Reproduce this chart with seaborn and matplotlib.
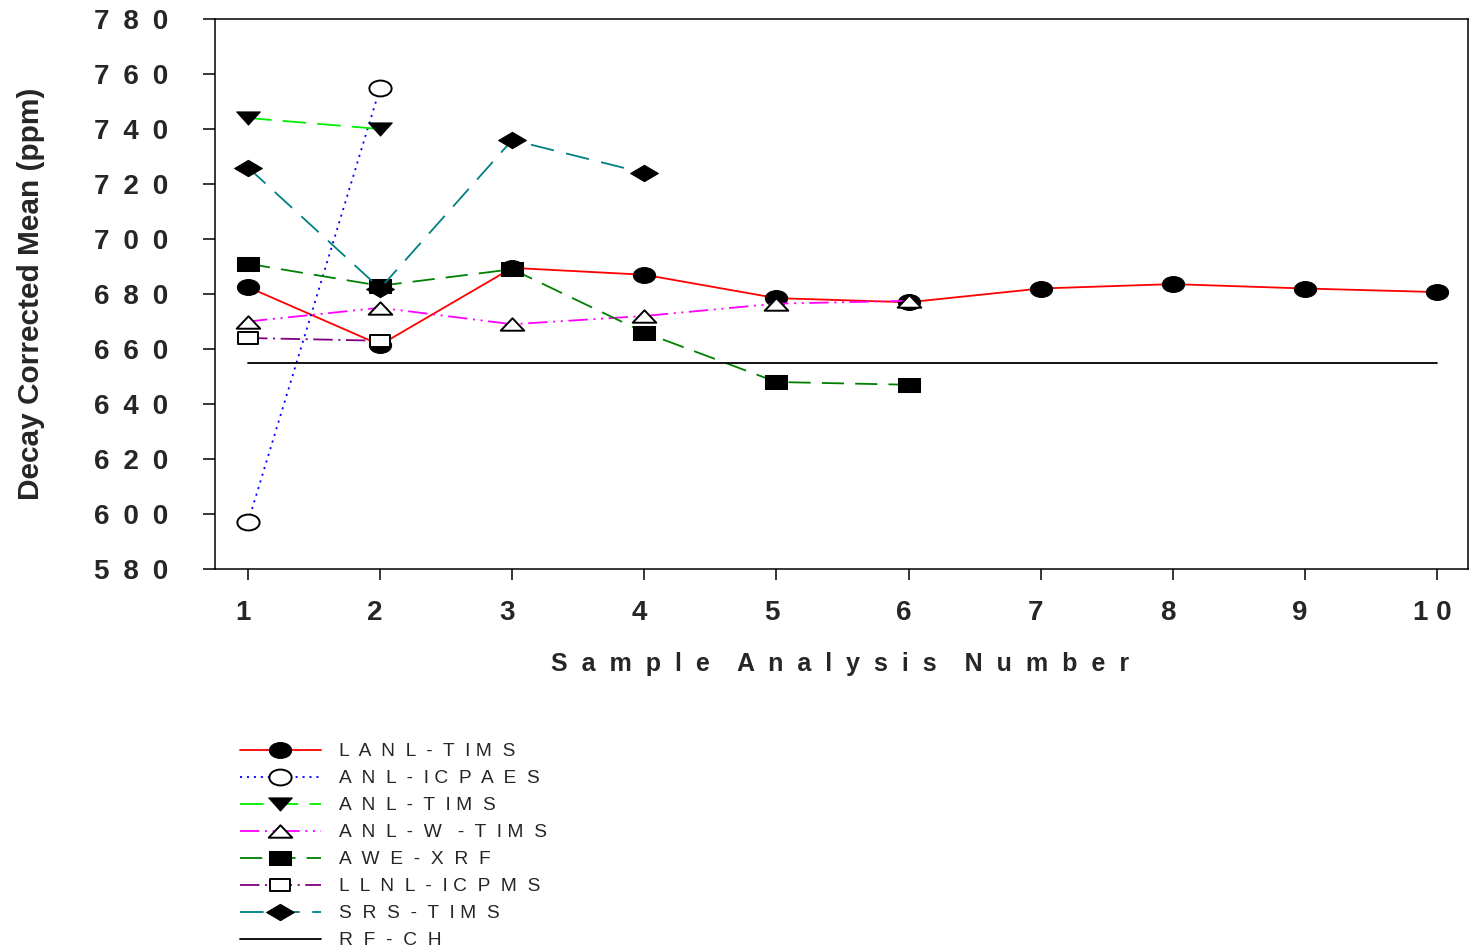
import matplotlib
matplotlib.use("Agg")
import matplotlib.pyplot as plt
from matplotlib.path import Path
from matplotlib.transforms import ScaledTranslation
import pandas as pd
import seaborn as sns

# ---- data -------------------------------------------------------------
lanl_tims_x = [1, 2, 3, 4, 5, 6, 7, 8, 9, 10]
lanl_tims_y = [682.5, 661.5, 689.5, 687, 678.5, 677, 682, 683.6, 682, 680.7]
anl_icpaes_x = [1, 2]
anl_icpaes_y = [597, 755]
anl_tims_x = [1, 2]
anl_tims_y = [744, 740]
anl_w_tims_x = [1, 2, 3, 4, 5, 6]
anl_w_tims_y = [670, 675, 669, 672, 676.5, 677.5]
awe_xrf_x = [1, 2, 3, 4, 5, 6]
awe_xrf_y = [691, 683, 689, 666, 648, 647]
llnl_icpms_x = [1, 2]
llnl_icpms_y = [664, 663]
srs_tims_x = [1, 2, 3, 4]
srs_tims_y = [726, 682, 736, 724]
rf_ch_x = [1, 10]
rf_ch_y = [655, 655]

series_names = ["LANL-TIMS", "ANL-ICPAES", "ANL-TIMS", "ANL-W-TIMS",
                "AWE-XRF", "LLNL-ICPMS", "SRS-TIMS", "RF-CH"]
legend_labels = ["L  A  N  L  -  T  I M  S",
                 "A  N  L  -  I C  P  A  E  S",
                 "A  N  L  -  T  I M  S",
                 "A  N  L  -  W   -  T  I M  S",
                 "A  W  E  -  X  R  F",
                 "L  L  N  L  -  I C  P  M  S",
                 "S  R  S  -  T  I M  S",
                 "R  F  -  C  H"]
y_ticks = [580, 600, 620, 640, 660, 680, 700, 720, 740, 760, 780]
x_ticks = [1, 2, 3, 4, 5, 6, 7, 8, 9, 10]

# ---- styling ----------------------------------------------------------
sns.set_theme(style="ticks")
plt.rcParams["font.family"] = ["Liberation Sans", "DejaVu Sans"]
plt.rcParams["lines.scale_dashes"] = False


def marker_path(verts, sx):
    pts = [(x * sx, y) for x, y in verts]
    return Path(pts + [pts[0]], closed=True)


circle = Path.unit_circle()
ellipse = Path(circle.vertices * [1.4, 1.0], circle.codes)
tri_down = marker_path([(-1, 1), (1, 1), (0, -1)], 1.8)
tri_up = marker_path([(-1, -1), (1, -1), (0, 1)], 1.9)
square = marker_path([(-1, -1), (1, -1), (1, 1), (-1, 1)], 1.6)
diamond = marker_path([(0, 1), (1, 0), (0, -1), (-1, 0)], 1.7)

styles = {
    "LANL-TIMS": dict(color="#ff0000", linestyle="-", marker=ellipse,
                      markersize=16, mfc="black", mec="black"),
    "ANL-ICPAES": dict(color="#0000ff", linestyle=(0, (1.5, 3.5)), marker=ellipse,
                       markersize=16, mfc="white", mec="black", mew=1.4),
    "ANL-TIMS": dict(color="#00ee00", linestyle=(0, (17, 8)), marker=tri_down,
                     markersize=17, mfc="black", mec="black"),
    "ANL-W-TIMS": dict(color="#ff00ff", linestyle=(0, (14, 4, 1.5, 4, 1.5, 4)),
                       marker=tri_up, markersize=17, mfc="white", mec="black", mew=1.4),
    "AWE-XRF": dict(color="#008000", linestyle=(0, (16, 8)), marker=square,
                    markersize=15.5, mfc="black", mec="black"),
    "LLNL-ICPMS": dict(color="#800080", linestyle=(0, (14, 4, 1.5, 4)), marker=square,
                       markersize=14.5, mfc="white", mec="black", mew=1.4),
    "SRS-TIMS": dict(color="#008080", linestyle=(0, (17, 9)), marker=diamond,
                     markersize=20, mfc="black", mec="black"),
    "RF-CH": dict(color="black", linestyle="-", marker=None),
}

data = {
    "LANL-TIMS": (lanl_tims_x, lanl_tims_y),
    "ANL-ICPAES": (anl_icpaes_x, anl_icpaes_y),
    "ANL-TIMS": (anl_tims_x, anl_tims_y),
    "ANL-W-TIMS": (anl_w_tims_x, anl_w_tims_y),
    "AWE-XRF": (awe_xrf_x, awe_xrf_y),
    "LLNL-ICPMS": (llnl_icpms_x, llnl_icpms_y),
    "SRS-TIMS": (srs_tims_x, srs_tims_y),
    "RF-CH": (rf_ch_x, rf_ch_y),
}

fig = plt.figure(figsize=(14.74, 9.51), dpi=100)
ax = fig.add_axes([215 / 1474, 1 - 569 / 951, 1253 / 1474, 550 / 951])

for name, label in zip(series_names, legend_labels):
    xs, ys = data[name]
    df = pd.DataFrame({"x": xs, "y": ys})
    sns.lineplot(data=df, x="x", y="y", ax=ax, label=label, sort=False,
                 estimator=None, linewidth=1.3, **styles[name])

ax.set_xlim(0.75, 10.235)
ax.set_ylim(580, 780)
ax.set_yticks(y_ticks)
ax.set_yticklabels(["\u2002".join(str(v)) for v in y_ticks],
                   fontsize=20, fontweight="bold")
ax.set_xticks(x_ticks)
ax.set_xticklabels([" ".join(str(v)) for v in x_ticks],
                   fontsize=20, fontweight="bold")
ax.tick_params(axis="y", direction="out", length=9, width=1.1, pad=25, color="black")
ax.tick_params(axis="x", direction="out", length=8, width=1.1, pad=14, color="black")
shift = ScaledTranslation(-0.05, 0, fig.dpi_scale_trans)
for lbl in ax.get_xticklabels():
    lbl.set_transform(lbl.get_transform() + shift)
for sp in ax.spines.values():
    sp.set_visible(True)
    sp.set_color("black")
    sp.set_linewidth(1.1)

ax.set_xlabel("S  a  m  p  l  e    A  n  a  l  y  s  i  s    N  u  m  b  e  r",
              fontsize=18, fontweight="bold")
ax.set_ylabel("Decay Corrected Mean (ppm)", fontsize=21.5, fontweight="bold")
ax.xaxis.set_label_coords(0.499, -0.151)
ax.yaxis.set_label_coords(-0.136, 0.5)

ax.legend(loc="upper left", bbox_to_anchor=(240 / 1474, 1 - 743 / 951),
          bbox_transform=fig.transFigure, frameon=False, fontsize=13.8,
          handlelength=4.2, handletextpad=0.94, labelspacing=0.5,
          borderpad=0, borderaxespad=0)

fig.savefig("out.png", dpi=100)
